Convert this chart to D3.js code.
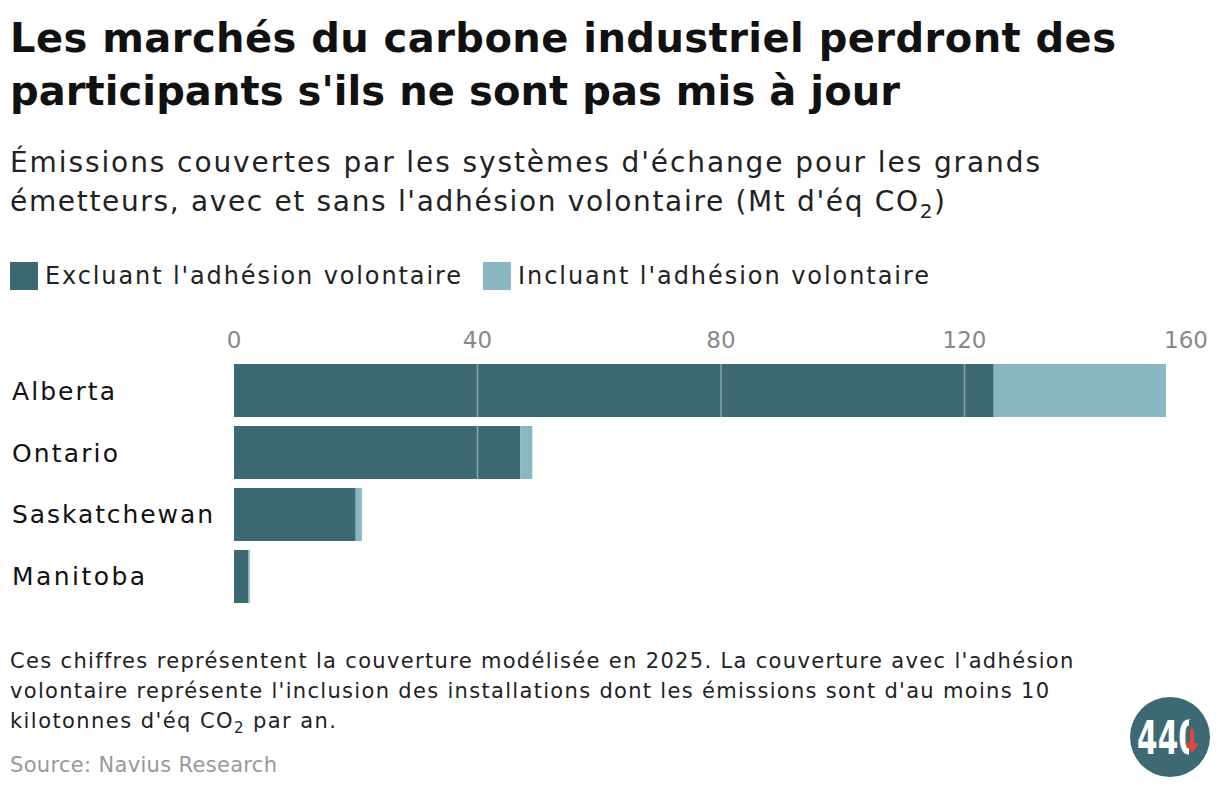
<!DOCTYPE html>
<meta charset="utf-8" />
<script src="https://d3js.org/d3.v7.min.js"></script>
<style>
  body { margin: 0; background: #fff; }
  text { font-family: "DejaVu Sans", sans-serif; }
</style>
<body>
<div id="chart"></div>
<script>
  // data
  var provinces = ["Alberta", "Ontario", "Saskatchewan", "Manitoba"];
  var excluant = [124.8, 47.0, 20.0, 2.3];
  var incluantExtra = [28.3, 2.0, 1.0, 0.3];
  var ticks = [0, 40, 80, 120, 160];
  var seriesNames = ["Excluant l'adhésion volontaire", "Incluant l'adhésion volontaire"];
  var colors = ["#3d6a72", "#89b8c2"];

  var width = 1220, height = 790;
  var svg = d3.select("#chart").append("svg")
    .attr("width", width)
    .attr("height", height);

  // stretch letter spacing so a line reaches the wanted width (the original font is wider)
  function fit(sel, w) {
    var node = sel.node();
    var cur = node.getComputedTextLength();
    var n = node.textContent.length;
    if (n > 1) sel.attr("letter-spacing", (w - cur) / (n - 1));
    return sel;
  }

  // title
  var title = svg.append("g").attr("font-weight", 700).attr("font-size", 40).attr("fill", "#111");
  fit(title.append("text").attr("x", 10).attr("y", 52).text("Les marchés du carbone industriel perdront des"), 1106);
  fit(title.append("text").attr("x", 10).attr("y", 105).text("participants s'ils ne sont pas mis à jour"), 890);

  // subtitle
  var sub = svg.append("g").attr("font-size", 28).attr("fill", "#222");
  fit(sub.append("text").attr("x", 10).attr("y", 172).text("Émissions couvertes par les systèmes d'échange pour les grands"), 1030);
  var s2 = sub.append("text").attr("x", 10).attr("y", 211);
  s2.append("tspan").text("émetteurs, avec et sans l'adhésion volontaire (Mt d'éq CO");
  s2.append("tspan").attr("dy", 7).attr("font-size", 20).text("2");
  s2.append("tspan").attr("dy", -7).text(")");
  fit(s2, 935);

  // legend
  var legX = [10, 483];
  var legW = [416, 411];
  var leg = svg.append("g");
  seriesNames.forEach(function (n, i) {
    leg.append("rect").attr("x", legX[i]).attr("y", 262).attr("width", 28).attr("height", 28).attr("fill", colors[i]);
    fit(leg.append("text").attr("x", legX[i] + 35).attr("y", 284).attr("font-size", 24).attr("fill", "#222").text(n), legW[i]);
  });

  // scales
  var x = d3.scaleLinear().domain([0, 160]).range([234, 1208]);
  var y = d3.scaleBand().domain(provinces).range([364, 603]).paddingInner(0.145).paddingOuter(0);

  // tick labels
  svg.append("g").selectAll("text").data(ticks).enter().append("text")
    .attr("x", function (d) { return x(d); })
    .attr("y", 348)
    .attr("text-anchor", function (d, i) { return i === ticks.length - 1 ? "end" : "middle"; })
    .attr("font-size", 23)
    .attr("fill", "#888")
    .text(function (d) { return d; });

  // bars
  var rows = provinces.map(function (p, i) {
    return { name: p, a: excluant[i], b: incluantExtra[i] };
  });
  var g = svg.append("g");
  g.selectAll("rect.a").data(rows).enter().append("rect")
    .attr("x", x(0))
    .attr("y", function (d) { return y(d.name); })
    .attr("width", function (d) { return x(d.a) - x(0); })
    .attr("height", y.bandwidth())
    .attr("fill", colors[0]);
  g.selectAll("rect.b").data(rows).enter().append("rect")
    .attr("x", function (d) { return x(d.a); })
    .attr("y", function (d) { return y(d.name); })
    .attr("width", function (d) { return x(d.a + d.b) - x(d.a); })
    .attr("height", y.bandwidth())
    .attr("fill", colors[1]);

  // gridlines on top of bars
  svg.append("g").selectAll("line").data(ticks.slice(1, 4)).enter().append("line")
    .attr("x1", function (d) { return x(d); })
    .attr("x2", function (d) { return x(d); })
    .attr("y1", y.range()[0])
    .attr("y2", y.range()[1])
    .attr("stroke", "rgba(255,255,255,0.4)")
    .attr("stroke-width", 1.5);

  // category labels
  var catW = { Alberta: 103, Ontario: 106, Saskatchewan: 201, Manitoba: 133 };
  svg.append("g").selectAll("text").data(provinces).enter().append("text")
    .attr("x", 12)
    .attr("y", function (d) { return y(d) + y.bandwidth() / 2 + 9; })
    .attr("font-size", 25)
    .attr("fill", "#111")
    .text(function (d) { return d; })
    .each(function (d) { fit(d3.select(this), catW[d]); });

  // notes
  var notes = svg.append("g").attr("font-size", 21).attr("fill", "#222");
  fit(notes.append("text").attr("x", 10).attr("y", 668).text("Ces chiffres représentent la couverture modélisée en 2025. La couverture avec l'adhésion"), 1063);
  fit(notes.append("text").attr("x", 10).attr("y", 698).text("volontaire représente l'inclusion des installations dont les émissions sont d'au moins 10"), 1039);
  var n3 = notes.append("text").attr("x", 10).attr("y", 728);
  n3.append("tspan").text("kilotonnes d'éq CO");
  n3.append("tspan").attr("dy", 5).attr("font-size", 15).text("2");
  n3.append("tspan").attr("dy", -5).text(" par an.");
  fit(n3, 326);

  fit(svg.append("text").attr("x", 10).attr("y", 772).attr("font-size", 21).attr("fill", "#999")
    .text("Source: Navius Research"), 267);

  // logo
  var logo = svg.append("g").attr("transform", "translate(1170,737)");
  logo.append("circle").attr("r", 40).attr("fill", "#3d6a72");
  var lt = logo.append("text").attr("x", 0).attr("y", 0)
    .attr("font-size", 46).attr("font-weight", 700).attr("fill", "#fff")
    .text("440");
  var lw = lt.node().getComputedTextLength();
  lt.attr("transform", "translate(-33,17) scale(" + (62 / lw) + ",1)");
  logo.append("rect").attr("x", 19).attr("y", -17).attr("width", 10).attr("height", 36).attr("fill", "#3d6a72");
  logo.append("path").attr("d", "M20,-8 L24,-8 L24,6 L29,6 L22,16 L15,6 L20,6 Z").attr("fill", "#e8423f");
</script>
</body>
